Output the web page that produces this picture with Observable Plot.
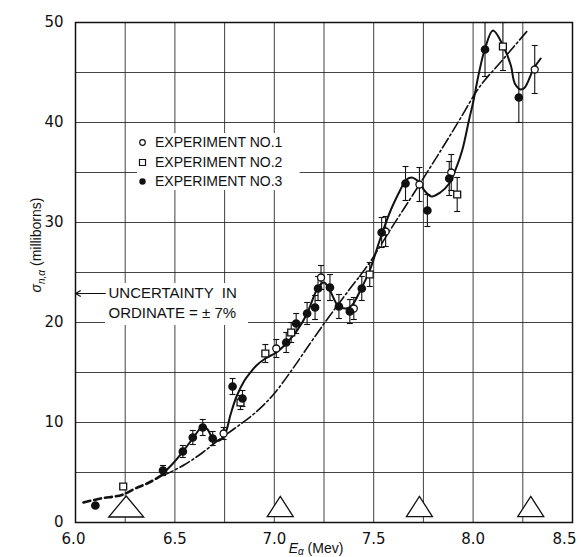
<!DOCTYPE html>
<html><head><meta charset="utf-8">
<script src="https://cdn.jsdelivr.net/npm/d3@7"></script>
<script src="https://cdn.jsdelivr.net/npm/@observablehq/plot@0.6"></script>
<style>body{margin:0;background:#fff} svg{display:block}</style>
</head><body><div id="chart"></div>
<script>
// ---- data ----
const xTicks = [6.0, 6.5, 7.0, 7.5, 8.0, 8.5];
const yTicks = [0, 10, 20, 30, 40, 50];
const xGrid = [6.0, 6.25, 6.5, 6.75, 7.0, 7.25, 7.5, 7.75, 8.0, 8.25, 8.5];
const yGrid = [0, 5, 10, 15, 20, 25, 30, 35, 40, 45, 50];

// Experiment No.1 (open circles)
const exp1X   = [6.745, 7.01, 7.235, 7.40, 7.56, 7.73, 7.89, 8.31];
const exp1Y   = [8.9, 17.4, 24.5, 21.4, 29.1, 33.8, 35.0, 45.3];
const exp1Err = [0.6, 0.9, 1.2, 1.1, 1.5, 1.7, 1.8, 2.4];
// Experiment No.2 (open squares)
const exp2X   = [6.24, 6.83, 6.955, 7.085, 7.48, 7.92, 8.15];
const exp2Y   = [3.6, 12.0, 16.9, 19.0, 24.8, 32.8, 47.6];
const exp2Err = [0, 0.7, 0.9, 1.0, 1.2, 1.7, 2.4];
// Experiment No.3 (filled circles)
const exp3X   = [6.10, 6.44, 6.54, 6.59, 6.64, 6.69, 6.79, 6.84, 7.06, 7.11, 7.165, 7.205, 7.22, 7.28, 7.325, 7.38, 7.44, 7.54, 7.66, 7.77, 7.88, 8.06, 8.23];
const exp3Y   = [1.7, 5.2, 7.1, 8.5, 9.5, 8.4, 13.6, 12.4, 18.0, 19.9, 20.9, 21.5, 23.4, 23.5, 21.6, 21.1, 23.4, 29.0, 33.9, 31.2, 34.4, 47.3, 42.5];
const exp3Err = [0.2, 0.5, 0.6, 0.7, 0.8, 0.7, 0.8, 0.8, 1.0, 1.0, 1.1, 1.2, 1.2, 1.3, 1.2, 1.2, 1.2, 1.5, 1.7, 1.6, 1.7, 2.7, 2.5];

// Solid fitted curve
const fitX = [6.44, 6.49, 6.54, 6.59, 6.64, 6.665, 6.69, 6.725, 6.755, 6.78, 6.81, 6.85, 6.88, 6.91, 6.955, 7.01, 7.06, 7.115, 7.165, 7.22, 7.25, 7.28, 7.32, 7.36, 7.39, 7.44, 7.48, 7.53, 7.585, 7.635, 7.66, 7.69, 7.73, 7.755, 7.79, 7.835, 7.88, 7.91, 7.945, 7.98, 8.00, 8.03, 8.06, 8.10, 8.155, 8.19, 8.21, 8.24, 8.26, 8.305, 8.34];
const fitY = [4.9, 5.9, 7.1, 8.4, 9.6, 9.3, 8.4, 8.2, 9.0, 10.8, 12.6, 14.2, 15.0, 15.7, 16.4, 17.0, 17.9, 19.2, 20.9, 23.5, 24.0, 23.2, 21.7, 21.4, 21.7, 23.5, 25.2, 28.2, 31.2, 33.3, 34.2, 34.5, 34.0, 33.2, 32.6, 33.0, 33.9, 35.2, 37.2, 40.3, 42.0, 45.0, 47.4, 49.2, 47.5, 45.7, 43.9, 43.3, 43.5, 45.4, 46.4];
// Heavy dashed low-energy curve
const dashX = [6.04, 6.126, 6.24, 6.30, 6.36, 6.44];
const dashY = [2.0, 2.4, 2.8, 3.4, 3.9, 4.8];
// Dot-dash theoretical curve
const theoX = [6.44, 6.55, 6.64, 6.71, 6.80, 6.90, 7.00, 7.09, 7.18, 7.28, 7.37, 7.48, 7.575, 7.73, 7.93, 8.02, 8.15, 8.27];
const theoY = [4.7, 5.8, 7.0, 8.1, 9.4, 10.9, 12.9, 15.3, 17.9, 20.7, 23.1, 26.0, 29.0, 33.8, 40.2, 43.2, 46.3, 49.1];
// Triangle markers on the energy axis
const triX = [6.255, 7.03, 7.73, 8.29];
const triY = [1.6, 1.6, 1.6, 1.6];

const legendLabels = ["EXPERIMENT NO.1", "EXPERIMENT NO.2", "EXPERIMENT NO.3"];
const noteLines = ["UNCERTAINTY  IN", "ORDINATE = ± 7%"];

// ---- tables ----
const tab = (xs, ys, es) => xs.map((x, i) => ({x, y: ys[i], e: es ? es[i] : 0}));
const e1 = tab(exp1X, exp1Y, exp1Err), e2 = tab(exp2X, exp2Y, exp2Err), e3 = tab(exp3X, exp3Y, exp3Err);
const errs = [...e1, ...e2, ...e3].filter(d => d.e > 0);
const fit = tab(fitX, fitY), dash = tab(dashX, dashY), theo = tab(theoX, theoY);
const tri = tab(triX, triY);

// custom symbols
const hbar = {draw(c, s) { const r = Math.sqrt(s / Math.PI); c.moveTo(-r, 0); c.lineTo(r, 0); }};
const triSym = k => ({draw(c, s) { const r = Math.sqrt(s / Math.PI); const h = r * k; c.moveTo(0, -h / 2); c.lineTo(r, h / 2); c.lineTo(-r, h / 2); c.closePath(); }});

const ink = "#111";
const plot = Plot.plot({
  width: 581, height: 557,
  marginTop: 22, marginRight: 9, marginBottom: 35, marginLeft: 75,
  style: {fontFamily: "DejaVu Sans, sans-serif", fontSize: "15px", color: ink, background: "#fff"},
  x: {domain: [6, 8.5], ticks: xTicks, tickFormat: d3.format(".1f"), tickSize: 0, tickPadding: 11, label: null},
  y: {domain: [0, 50], ticks: yTicks, tickSize: 0, tickPadding: 12, label: null},
  marks: [
    Plot.gridX(xGrid, {stroke: "#222", strokeOpacity: 0.85, strokeWidth: 1}),
    Plot.gridY(yGrid, {stroke: "#222", strokeOpacity: 0.85, strokeWidth: 1}),
    Plot.rect([0], {x1: () => 6.312, x2: () => 7.13, y1: () => 33.2, y2: () => 38.9, fill: "white"}),
    Plot.rect([0], {x1: () => 6.151, x2: () => 6.87, y1: () => 19.7, y2: () => 23.9, fill: "white"}),
    Plot.frame({stroke: ink, strokeWidth: 1.5}),
    // triangles
    Plot.dot(tri.slice(0, 1), {x: "x", y: "y", r: 17.5, symbol: triSym(1.2), fill: "white", stroke: ink, strokeWidth: 1.3}),
    Plot.dot(tri.slice(1), {x: "x", y: "y", r: 13, symbol: triSym(1.55), fill: "white", stroke: ink, strokeWidth: 1.3}),
    // curves
    Plot.line(theo, {x: "x", y: "y", curve: "monotone-x", stroke: ink, strokeWidth: 1.6, strokeDasharray: "11,3,2,3"}),
    Plot.line(dash, {x: "x", y: "y", curve: "monotone-x", stroke: ink, strokeWidth: 2.6, strokeDasharray: "7,4"}),
    Plot.line(fit, {x: "x", y: "y", curve: "catmull-rom", stroke: ink, strokeWidth: 2}),
    // error bars
    Plot.ruleX(errs, {x: "x", y1: d => d.y - d.e, y2: d => d.y + d.e, stroke: ink, strokeWidth: 1.1}),
    Plot.dot(errs, {x: "x", y: d => d.y - d.e, r: 3, symbol: hbar, stroke: ink, strokeWidth: 1.1, fill: "none"}),
    Plot.dot(errs, {x: "x", y: d => d.y + d.e, r: 3, symbol: hbar, stroke: ink, strokeWidth: 1.1, fill: "none"}),
    // points
    Plot.dot(e1, {x: "x", y: "y", r: 3.5, symbol: "circle", fill: "white", stroke: ink, strokeWidth: 1.3}),
    Plot.dot(e2, {x: "x", y: "y", r: 3.9, symbol: "square", fill: "white", stroke: ink, strokeWidth: 1.3}),
    Plot.dot(e3, {x: "x", y: "y", r: 3.6, symbol: "circle", fill: ink, stroke: ink}),
    // legend
    Plot.dot([0], {x: () => 6.337, y: () => 38.0, r: 2.8, symbol: "circle", fill: "white", stroke: ink, strokeWidth: 1.2}),
    Plot.dot([0], {x: () => 6.337, y: () => 36.0, r: 3.4, symbol: "square", fill: "white", stroke: ink, strokeWidth: 1.2}),
    Plot.dot([0], {x: () => 6.337, y: () => 34.1, r: 3.2, symbol: "circle", fill: ink}),
    Plot.text(legendLabels, {x: () => 6.40, y: (d, i) => [38.0, 36.0, 34.1][i], text: d => d, textAnchor: "start",
      fontFamily: "Liberation Sans, Arial, sans-serif", fontSize: 14, fill: ink}),
    // uncertainty note
    Plot.arrow([0], {x1: () => 6.15, x2: () => 6.0, y1: () => 22.9, y2: () => 22.9, headLength: 7, strokeWidth: 1.2, stroke: ink}),
    Plot.text(noteLines, {x: () => 6.166, y: (d, i) => [22.9, 20.9][i], text: d => d, textAnchor: "start",
      fontFamily: "Liberation Sans, Arial, sans-serif", fontSize: 15, fill: ink})
  ]
});

const svg = d3.select(plot);
// keep the last x tick label inside the picture, as in the reference
svg.selectAll("text").filter(function () { return this.textContent === "8.5"; }).attr("dx", -8);
svg.selectAll("text").filter(function () { return this.textContent === "6.0"; }).attr("dx", -2);

// axis titles with subscripts
const yl = svg.append("text").attr("transform", "translate(41,245) rotate(-90)")
  .attr("text-anchor", "middle").attr("font-family", "Liberation Sans, Arial, sans-serif")
  .attr("font-size", 14).attr("fill", ink);
yl.append("tspan").attr("font-style", "italic").text("σ");
yl.append("tspan").attr("font-size", 10).attr("dy", 4).attr("font-style", "italic").text("n,α");
yl.append("tspan").attr("dy", -4).text(" (milliborns)");
const xl = svg.append("text").attr("x", 316).attr("y", 553)
  .attr("text-anchor", "middle").attr("font-family", "Liberation Sans, Arial, sans-serif")
  .attr("font-size", 14).attr("fill", ink);
xl.append("tspan").attr("font-style", "italic").text("E");
xl.append("tspan").attr("font-size", 10).attr("dy", 2).attr("font-style", "italic").text("α");
xl.append("tspan").attr("dy", -2).text(" (Mev)");

document.getElementById("chart").appendChild(plot);
</script></body></html>
